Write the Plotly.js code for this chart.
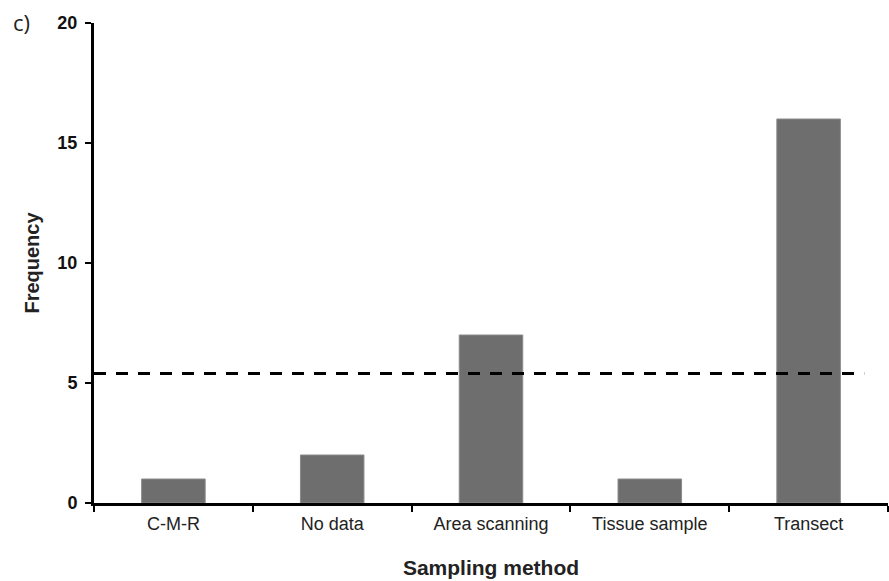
<!DOCTYPE html>
<html>
<head>
<meta charset="utf-8">
<script src="https://cdn.plot.ly/plotly-3.0.1.min.js"></script>
<style>html,body{margin:0;padding:0;background:#fff;}#chart{width:889px;height:581px;}</style>
</head>
<body>
<div id="chart"></div>
<script>
const categories = ["C-M-R", "No data", "Area scanning", "Tissue sample", "Transect"];
const frequency = [1, 2, 7, 1, 16];
const yTicks = [0, 5, 10, 15, 20];
const meanLine = frequency.reduce((a, b) => a + b, 0) / frequency.length;

const trace = {
  type: "bar",
  x: categories,
  y: frequency,
  width: 0.4,
  marker: {color: "#6e6e6e", line: {color: "#8a8a8a", width: 1}},
  hoverinfo: "x+y"
};

const layout = {
  width: 889, height: 581,
  margin: {l: 94, r: 1, t: 23, b: 78},
  paper_bgcolor: "#fff", plot_bgcolor: "#fff",
  font: {family: "Liberation Sans, Arial, sans-serif", color: "#000"},
  showlegend: false,
  xaxis: {
    type: "category",
    range: [-0.5, 4.5],
    showline: true, linecolor: "#000", linewidth: 3,
    ticks: "outside", tickson: "boundaries", ticklen: 6, tickwidth: 2, tickcolor: "#000",
    tickfont: {size: 18, color: "#222"},
    ticklabelstandoff: 2,
    showgrid: false, zeroline: false,
    title: {text: "<b>Sampling method</b>", font: {size: 21, color: "#222"}, standoff: 28}
  },
  yaxis: {
    range: [0, 20],
    tickvals: yTicks,
    showline: true, linecolor: "#000", linewidth: 3,
    ticks: "outside", ticklen: 6, tickwidth: 2, tickcolor: "#000",
    tickfont: {size: 18, color: "#111", weight: "bold"},
    ticklabelstandoff: 4,
    showgrid: false, zeroline: false,
    title: {text: "<b>Frequency</b>", font: {size: 20, color: "#222"}, standoff: 13}
  },
  shapes: [{
    type: "line", xref: "paper", yref: "y",
    x0: 0, x1: 0.97, y0: meanLine, y1: meanLine,
    line: {color: "#000", width: 3, dash: "12px,10px"}
  }],
  annotations: [{
    text: "c)", xref: "paper", yref: "paper", x: -0.105, y: 1.003,
    xanchor: "left", yanchor: "middle", showarrow: false,
    font: {size: 22, color: "#222", family: "Open Sans, Liberation Sans, sans-serif"}
  }]
};

Plotly.newPlot("chart", [trace], layout, {displayModeBar: false, staticPlot: true});
</script>
</body>
</html>
